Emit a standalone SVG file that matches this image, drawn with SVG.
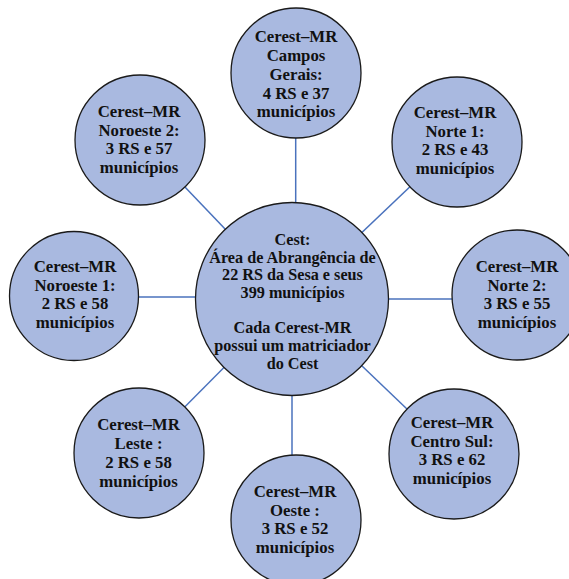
<svg xmlns="http://www.w3.org/2000/svg" width="569" height="579" viewBox="0 0 569 579">
<style>
.n{fill:#a9b9e0;stroke:#1a1a1a;stroke-width:1.3}
.t{font-family:"Liberation Serif","Times New Roman",serif;font-weight:bold;font-size:16.8px;fill:#111;text-anchor:middle}
.tc{font-size:16.2px}
.c{stroke:#4a72bd;stroke-width:1.5;fill:none}
</style>
<rect width="569" height="579" fill="#fff"/>
<g id="connectors">
<line class="c" x1="295.7" y1="120" x2="295.7" y2="210"/>
<line class="c" x1="292" y1="299" x2="140" y2="140"/>
<line class="c" x1="292" y1="299" x2="457" y2="142"/>
<line class="c" x1="74" y1="297" x2="292" y2="297"/>
<line class="c" x1="292" y1="299" x2="517" y2="299"/>
<line class="c" x1="292" y1="299" x2="139" y2="453"/>
<line class="c" x1="292" y1="299" x2="454" y2="454"/>
<line class="c" x1="292" y1="299" x2="292" y2="520"/>
</g>
<g id="cest">
<circle class="n" cx="292" cy="299" r="96.5"/>
<text class="t tc"><tspan x="292.5" y="245">Cest:</tspan><tspan x="292.5" y="262.7">Área de Abrangência de</tspan><tspan x="292.5" y="280.4">22 RS da Sesa e seus</tspan><tspan x="292.5" y="298">399 municípios</tspan><tspan x="292.5" y="333.4">Cada Cerest-MR</tspan><tspan x="292.5" y="351">possui um matriciador</tspan><tspan x="292.5" y="368.6">do Cest</tspan></text>
</g>
<g id="campos-gerais">
<circle class="n" cx="296" cy="73" r="65"/>
<text class="t"><tspan x="296" y="42">Cerest–MR</tspan><tspan x="296" y="61">Campos</tspan><tspan x="296" y="80">Gerais:</tspan><tspan x="296" y="98.5">4 RS e 37</tspan><tspan x="296" y="117">municípios</tspan></text>
</g>
<g id="noroeste-2">
<circle class="n" cx="140" cy="140" r="65"/>
<text class="t"><tspan x="139" y="117">Cerest–MR</tspan><tspan x="139" y="135.5">Noroeste 2:</tspan><tspan x="139" y="154">3 RS e 57</tspan><tspan x="139" y="172.5">municípios</tspan></text>
</g>
<g id="norte-1">
<circle class="n" cx="457" cy="142" r="65"/>
<text class="t"><tspan x="455" y="118">Cerest–MR</tspan><tspan x="455" y="136.5">Norte 1:</tspan><tspan x="455" y="155">2 RS e 43</tspan><tspan x="455" y="173.5">municípios</tspan></text>
</g>
<g id="noroeste-1">
<circle class="n" cx="74" cy="296" r="64.5"/>
<text class="t"><tspan x="75" y="272">Cerest–MR</tspan><tspan x="75" y="290.5">Noroeste 1:</tspan><tspan x="75" y="309">2 RS e 58</tspan><tspan x="75" y="327.5">municípios</tspan></text>
</g>
<g id="norte-2">
<circle class="n" cx="517" cy="295" r="65"/>
<text class="t"><tspan x="517" y="272">Cerest–MR</tspan><tspan x="517" y="290.5">Norte 2:</tspan><tspan x="517" y="309">3 RS e 55</tspan><tspan x="517" y="327.5">municípios</tspan></text>
</g>
<g id="leste">
<circle class="n" cx="139" cy="453" r="65"/>
<text class="t"><tspan x="138.5" y="430">Cerest–MR</tspan><tspan x="138.5" y="449">Leste :</tspan><tspan x="138.5" y="468">2 RS e 58</tspan><tspan x="138.5" y="487">municípios</tspan></text>
</g>
<g id="centro-sul">
<circle class="n" cx="454" cy="454" r="65"/>
<text class="t"><tspan x="452" y="428">Cerest–MR</tspan><tspan x="452" y="446.5">Centro Sul:</tspan><tspan x="452" y="465">3 RS e 62</tspan><tspan x="452" y="483.5">municípios</tspan></text>
</g>
<g id="oeste">
<circle class="n" cx="296" cy="520" r="65"/>
<text class="t"><tspan x="295" y="497">Cerest–MR</tspan><tspan x="295" y="515.5">Oeste :</tspan><tspan x="295" y="534">3 RS e 52</tspan><tspan x="295" y="552.5">municípios</tspan></text>
</g>
</svg>
